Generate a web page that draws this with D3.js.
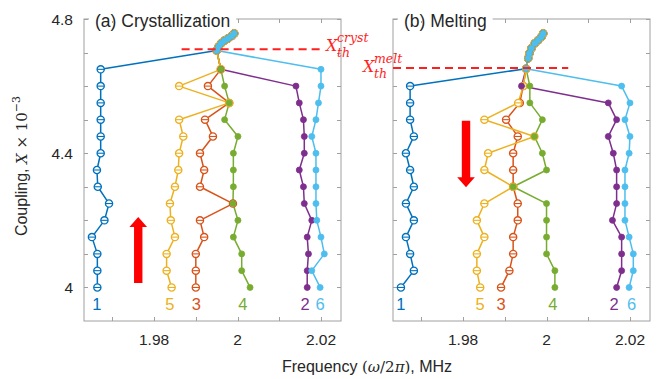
<!DOCTYPE html>
<html><head><meta charset="utf-8">
<script src="https://cdn.jsdelivr.net/npm/d3@7"></script>
<style>body{margin:0;background:#fff}</style>
</head><body>
<svg id="c" width="671" height="379"></svg>
<script>
// ---------- data ----------
const seriesNames  = ["1","2","3","4","5","6"];
const seriesColors = ["#0072BD","#7E2F8E","#D95319","#77AC30","#EDB120","#4DBEEE"];
const seriesHollow = [true,false,true,false,true,false];

// Crystallization: coupling levels 4.00 .. 4.65
const crystY = [4.00,4.05,4.10,4.15,4.20,4.25,4.30,4.35,4.40,4.45,4.50,4.55,4.60,4.65];
const crystX1 = [1.9664,1.9664,1.9664,1.9651,1.9681,1.9692,1.9665,1.9663,1.9672,1.9672,1.9672,1.9672,1.9672,1.9672];
const crystX2 = [2.0167,2.0167,2.0170,2.0167,2.0178,2.0160,2.0158,2.0148,2.0160,2.0160,2.0158,2.0148,2.0140,1.9960];
const crystX3 = [1.9900,1.9900,1.9900,1.9920,1.9910,1.9989,1.9910,1.9920,1.9910,1.9941,1.9922,1.9980,1.9929,1.9960];
const crystX4 = [2.0030,2.0010,2.0010,1.9990,2.0001,1.9989,1.9990,1.9990,1.9990,2.0001,1.9969,1.9980,1.9969,1.9960];
const crystX5 = [1.9842,1.9830,1.9830,1.9850,1.9840,1.9838,1.9850,1.9858,1.9860,1.9870,1.9860,1.9980,1.9860,1.9960];
const crystX6 = [2.0198,2.0178,2.0208,2.0200,2.0190,2.0188,2.0188,2.0188,2.0188,2.0178,2.0188,2.0194,2.0200,2.0200];
// shared top cluster (all modes merge)
const crystClusterX = [1.9950,1.9955,1.9961,1.9969,1.9977,1.9986,1.9992];
const crystClusterY = [4.706,4.718,4.728,4.736,4.742,4.749,4.757];

// Melting: coupling levels 4.00 .. 4.60
const meltY = [4.00,4.05,4.10,4.15,4.20,4.25,4.30,4.35,4.40,4.45,4.50,4.55,4.60];
const meltX1 = [1.9651,1.9682,1.9673,1.9663,1.9682,1.9663,1.9682,1.9673,1.9663,1.9682,1.9673,1.9673,1.9673];
const meltX2 = [2.0168,2.0180,2.0180,2.0180,2.0158,2.0168,2.0168,2.0168,2.0160,2.0148,2.0168,2.0148,1.9940];
const meltX3 = [1.9891,1.9911,1.9920,1.9920,1.9931,1.9931,1.9920,1.9920,1.9920,1.9931,1.9903,1.9936,1.9944];
const meltX4 = [2.0020,2.0020,2.0000,2.0000,2.0000,2.0000,1.9920,2.0000,1.9990,1.9971,1.9990,1.9960,1.9960];
const meltX5 = [1.9841,1.9833,1.9833,1.9851,1.9833,1.9851,1.9920,1.9851,1.9860,1.9971,1.9851,1.9932,1.9944];
const meltX6 = [2.0198,2.0208,2.0208,2.0198,2.0188,2.0188,2.0188,2.0188,2.0198,2.0200,2.0188,2.0200,2.0180];
const meltClusterX = [1.9951,1.9956,1.9959,1.9964,1.9972,1.9980,1.9988,1.9992];
const meltClusterY = [4.652,4.683,4.698,4.713,4.728,4.737,4.747,4.757];

// mode number labels
const labelY = 3.95;
const crystLabelX = [1.9663,2.0162,1.9901,2.0013,1.9838,2.0198];
const meltLabelX  = [1.9651,2.0162,1.9891,2.0015,1.9841,2.0204];

// thresholds
const crystThreshold = 4.710, crystThresholdX = [1.9866, 2.0205];
const meltThreshold  = 4.654, meltThresholdX  = [1.9632, 2.0052];

// arrows [x, yStart(tail), yEnd(tip)]
const crystArrow = [1.9762, 4.013, 4.210];
const meltArrow  = [1.9807, 4.497, 4.2985];

// axes
const xDomain = [1.9632, 2.0248];
const yDomain = [3.9, 4.8];
const xTicks = [1.97,1.98,1.99,2.00,2.01,2.02];
const xTickLabels = {"1.98":"1.98","2":"2","2.02":"2.02"};
const yTicks = [4.0,4.1,4.2,4.3,4.4,4.5,4.6,4.7,4.8];
const yTickLabels = {"4":"4","4.4":"4.4","4.8":"4.8"};

// ---------- drawing ----------
const svg = d3.select("#c");
svg.append("rect").attr("width",671).attr("height",379).attr("fill","#fff");
const font = "'Liberation Sans', Arial, Helvetica, sans-serif";
const axisColor = "#a0a0a0", textColor = "#262626";
const red = "#ff1f1f";

const yScale = d3.scaleLinear().domain(yDomain).range([321,19]);
const panels = [
  {x:d3.scaleLinear().domain(xDomain).range([84,341]), title:"(a) Crystallization",
   Y:crystY, X:[crystX1,crystX2,crystX3,crystX4,crystX5,crystX6], cX:crystClusterX, cY:crystClusterY,
   labX:crystLabelX, arrow:crystArrow, yLabels:true},
  {x:d3.scaleLinear().domain(xDomain).range([393,650]), title:"(b) Melting",
   Y:meltY, X:[meltX1,meltX2,meltX3,meltX4,meltX5,meltX6], cX:meltClusterX, cY:meltClusterY,
   labX:meltLabelX, arrow:meltArrow, yLabels:false}
];

panels.forEach((p,pi)=>{
  const x = p.x;
  const g = svg.append("g");
  const [xa,xb] = x.range(), [yb,ya] = yScale.range();
  g.append("rect").attr("x",xa).attr("y",ya).attr("width",xb-xa).attr("height",yb-ya)
    .attr("fill","none").attr("stroke",axisColor).attr("stroke-width",1);
  const tl = 4;
  xTicks.forEach(t=>{
    const px = Math.round(x(t))+0.5;
    g.append("line").attr("x1",px).attr("x2",px).attr("y1",yb).attr("y2",yb-tl).attr("stroke",axisColor);
    g.append("line").attr("x1",px).attr("x2",px).attr("y1",ya).attr("y2",ya+tl).attr("stroke",axisColor);
    const key = String(+t.toFixed(2));
    if (xTickLabels[key]) g.append("text").attr("x",x(t)).attr("y",345).attr("text-anchor","middle")
       .attr("font-family",font).attr("font-size",15.5).attr("fill",textColor).text(xTickLabels[key]);
  });
  yTicks.forEach(t=>{
    const py = Math.round(yScale(t))+0.5;
    g.append("line").attr("x1",xa).attr("x2",xa+tl).attr("y1",py).attr("y2",py).attr("stroke",axisColor);
    g.append("line").attr("x1",xb).attr("x2",xb-tl).attr("y1",py).attr("y2",py).attr("stroke",axisColor);
    const key = String(+t.toFixed(1));
    if (p.yLabels && yTickLabels[key]) g.append("text").attr("x",xa-11).attr("y",yScale(t)+5.5).attr("text-anchor","end")
       .attr("font-family",font).attr("font-size",15.5).attr("fill",textColor).text(yTickLabels[key]);
  });

  const line = d3.line().x(d=>x(d[0])).y(d=>yScale(d[1]));
  const all = p.X.map(xs => xs.map((v,i)=>[v,p.Y[i]]).concat(p.cX.map((v,i)=>[v,p.cY[i]])));
  // lines first
  all.forEach((pts,si)=>{
    g.append("path").attr("d",line(pts)).attr("fill","none").attr("stroke",seriesColors[si])
      .attr("stroke-width",1.5).attr("stroke-linejoin","round");
  });
  // hollow markers, then filled markers on top
  all.forEach((pts,si)=>{
    if (!seriesHollow[si]) return;
    const c = seriesColors[si];
    const m = g.selectAll(null).data(pts).enter().append("g")
      .attr("transform",d=>`translate(${x(d[0])},${yScale(d[1])})`);
    m.append("circle").attr("r",3.6).attr("fill","#fff").attr("stroke",c).attr("stroke-width",1.3);
    m.append("line").attr("x1",-3.6).attr("x2",3.6).attr("stroke",c).attr("stroke-width",1.1);
  });
  all.forEach((pts,si)=>{
    if (seriesHollow[si]) return;
    const c = seriesColors[si];
    g.selectAll(null).data(pts).enter().append("circle")
      .attr("cx",d=>x(d[0])).attr("cy",d=>yScale(d[1])).attr("r",3)
      .attr("fill",c).attr("stroke",c).attr("stroke-width",0.8);
  });

  p.labX.forEach((v,si)=>{
    g.append("text").attr("x",x(v)).attr("y",yScale(labelY)+6).attr("text-anchor","middle")
      .attr("font-family",font).attr("font-size",16.5).attr("fill",seriesColors[si]).text(seriesNames[si]);
  });

  const [ax,ay0,ay1] = p.arrow;
  const cx = x(ax), y0 = yScale(ay0), y1 = yScale(ay1);
  const dir = y1 < y0 ? -1 : 1, sw = 4.2, hw = 8.8, hl = 10;
  const yh = y1 - dir*hl;
  const path = `M${cx-sw},${y0} L${cx-sw},${yh} L${cx-hw},${yh} L${cx},${y1} L${cx+hw},${yh} L${cx+sw},${yh} L${cx+sw},${y0} Z`;
  g.append("path").attr("d",path).attr("fill","#ff0000");

  const tt = g.append("text").attr("x",xa+11).attr("y",ya+8).attr("font-family",font)
     .attr("font-size",17.5).attr("fill",textColor).text(p.title);
  const bb = tt.node().getBBox();
  g.insert("rect","text").attr("x",bb.x-6).attr("y",ya-2).attr("width",bb.width+12).attr("height",4).attr("fill","#fff");
});

const xa = panels[0].x, xb = panels[1].x;
svg.append("line").attr("x1",xa(crystThresholdX[0])).attr("x2",xa(crystThresholdX[1]))
  .attr("y1",yScale(crystThreshold)).attr("y2",yScale(crystThreshold))
  .attr("stroke",red).attr("stroke-width",2).attr("stroke-dasharray","8,5");
svg.append("line").attr("x1",xb(meltThresholdX[0])).attr("x2",xb(meltThresholdX[1]))
  .attr("y1",yScale(meltThreshold)).attr("y2",yScale(meltThreshold))
  .attr("stroke",red).attr("stroke-width",2).attr("stroke-dasharray","8,5");

const mathFont = "'DejaVu Serif', 'Liberation Serif', serif";
function thLabel(x0, yBase, sup){
  svg.append("text").attr("x",x0).attr("y",yBase).attr("font-family",mathFont).attr("font-style","italic")
    .attr("font-size",16).attr("fill",red).text("X");
  svg.append("text").attr("x",x0+11).attr("y",yBase-9).attr("font-family",mathFont).attr("font-style","italic")
    .attr("font-size",12.5).attr("fill",red).text(sup);
  svg.append("text").attr("x",x0+11).attr("y",yBase+6).attr("font-family",mathFont).attr("font-style","italic")
    .attr("font-size",12.5).attr("fill",red).text("th");
}
thLabel(xa(crystThresholdX[1])+3, yScale(crystThreshold)+2, "cryst");
thLabel(xb.range()[0]-30, yScale(meltThreshold)+4, "melt");

const yl = svg.append("text").attr("transform","translate(27,166) rotate(-90)").attr("text-anchor","middle")
  .attr("font-family",font).attr("font-size",16).attr("fill",textColor);
yl.append("tspan").text("Coupling, ");
yl.append("tspan").attr("font-family",mathFont).attr("font-style","italic").attr("font-size",15).text("X");
yl.append("tspan").attr("font-family",mathFont).attr("font-size",15).text(" \u00D7 10");
yl.append("tspan").attr("dy",-7).attr("font-family",mathFont).attr("font-size",11).text("\u22123");

const xl = svg.append("text").attr("x",367).attr("y",372).attr("text-anchor","middle")
  .attr("font-family",font).attr("font-size",16).attr("fill",textColor);
xl.append("tspan").text("Frequency ");
xl.append("tspan").attr("font-family",mathFont).attr("font-size",15).text("(");
xl.append("tspan").attr("font-family",mathFont).attr("font-style","italic").attr("font-size",15).text("\u03C9");
xl.append("tspan").attr("font-family",mathFont).attr("font-size",15).text("/2");
xl.append("tspan").attr("font-family",mathFont).attr("font-style","italic").attr("font-size",15).text("\u03C0");
xl.append("tspan").attr("font-family",mathFont).attr("font-size",15).text(")");
xl.append("tspan").text(", MHz");
</script>
</body></html>
